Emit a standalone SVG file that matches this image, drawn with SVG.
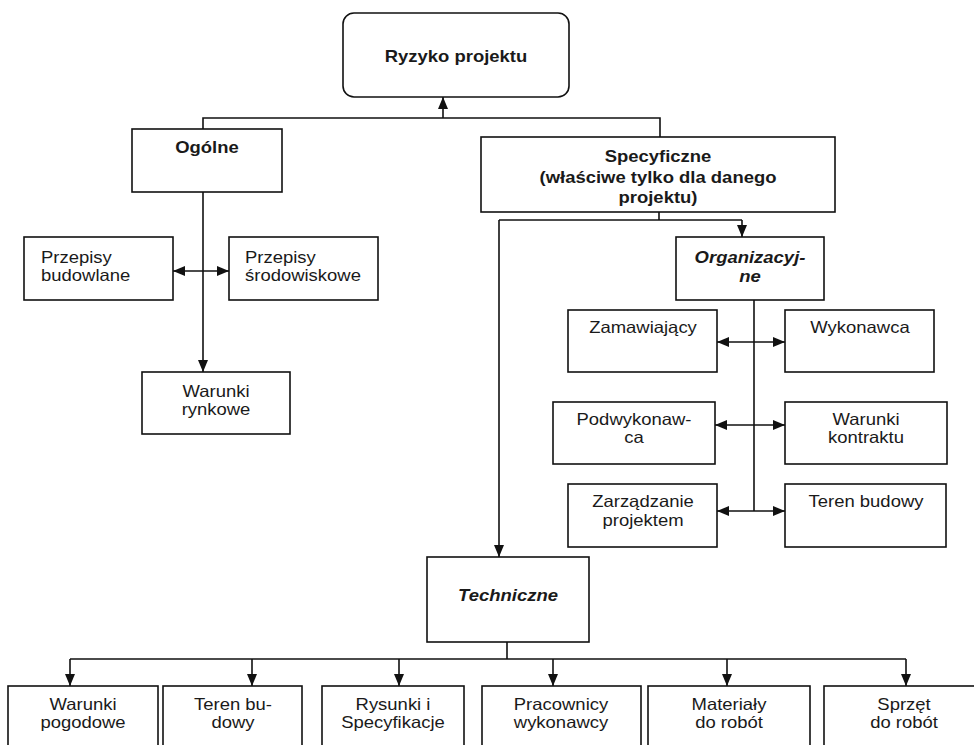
<svg xmlns="http://www.w3.org/2000/svg" width="974" height="745" viewBox="0 0 974 745">
<defs>
<marker id="ah" viewBox="0 0 12 10" refX="12" refY="5" markerWidth="12" markerHeight="10" markerUnits="userSpaceOnUse" orient="auto-start-reverse">
<path d="M0,0 L12,5 L0,10 z" fill="#111"/>
</marker>
<style>
.box{fill:#fff;stroke:#111;stroke-width:1.6}
.ln{fill:none;stroke:#111;stroke-width:1.6}
text{font-family:"Liberation Sans",Arial,sans-serif;font-size:16.5px;fill:#1a1a1a;text-anchor:middle}
.b{font-weight:bold}
.bi{font-weight:bold;font-style:italic}
.l{text-anchor:start}
</style>
</defs>
<rect width="974" height="745" fill="#fff"/>
<g id="connectors">
<path class="ln" d="M443,118 V97" marker-end="url(#ah)"/>
<path class="ln" d="M203,129 V118 H660 V137"/>
<path class="ln" d="M203,192 V372" marker-end="url(#ah)"/>
<path class="ln" d="M173,271 H229" marker-start="url(#ah)" marker-end="url(#ah)"/>
<path class="ln" d="M659,212 V220"/>
<path class="ln" d="M742,220 H499"/>
<path class="ln" d="M742,220 V237" marker-end="url(#ah)"/>
<path class="ln" d="M499,220 V557" marker-end="url(#ah)"/>
<path class="ln" d="M754,300 V511"/>
<path class="ln" d="M717,342 H785" marker-start="url(#ah)" marker-end="url(#ah)"/>
<path class="ln" d="M715,425 H785" marker-start="url(#ah)" marker-end="url(#ah)"/>
<path class="ln" d="M717,511 H785" marker-start="url(#ah)" marker-end="url(#ah)"/>
<path class="ln" d="M507,642 V659 M70,659 H906"/>
<path class="ln" d="M70,659 V686" marker-end="url(#ah)"/>
<path class="ln" d="M252,659 V686" marker-end="url(#ah)"/>
<path class="ln" d="M399,659 V686" marker-end="url(#ah)"/>
<path class="ln" d="M553,659 V686" marker-end="url(#ah)"/>
<path class="ln" d="M727,659 V686" marker-end="url(#ah)"/>
<path class="ln" d="M906,659 V686" marker-end="url(#ah)"/>
</g>
<g id="ryzyko">
<rect class="box" x="343" y="13" width="226" height="84" rx="11"/>
<text class="b" transform="translate(456 62) scale(1.12 1)">Ryzyko projektu</text>
</g>
<g id="ogolne">
<rect class="box" x="132" y="129" width="150" height="63"/>
<text class="b" transform="translate(207 153) scale(1.12 1)">Ogólne</text>
</g>
<g id="specyficzne">
<rect class="box" x="481" y="137" width="354" height="75"/>
<text class="b" transform="translate(658 162) scale(1.12 1)">Specyficzne</text>
<text class="b" transform="translate(658 182.5) scale(1.12 1)">(właściwe tylko dla danego</text>
<text class="b" transform="translate(658 203) scale(1.12 1)">projektu)</text>
</g>
<g id="przepisy-budowlane">
<rect class="box" x="24" y="237" width="149" height="63"/>
<text class="l" transform="translate(41 263) scale(1.12 1)">Przepisy</text>
<text class="l" transform="translate(41 281) scale(1.12 1)">budowlane</text>
</g>
<g id="przepisy-srodowiskowe">
<rect class="box" x="229" y="237" width="149" height="63"/>
<text class="l" transform="translate(245 263) scale(1.12 1)">Przepisy</text>
<text class="l" transform="translate(245 281) scale(1.12 1)">środowiskowe</text>
</g>
<g id="warunki-rynkowe">
<rect class="box" x="142" y="372" width="148" height="62"/>
<text transform="translate(216 397) scale(1.12 1)">Warunki</text>
<text transform="translate(216 415) scale(1.12 1)">rynkowe</text>
</g>
<g id="organizacyjne">
<rect class="box" x="676" y="237" width="148" height="63"/>
<text class="bi" transform="translate(750 263) scale(1.12 1)">Organizacyj-</text>
<text class="bi" transform="translate(750 282) scale(1.12 1)">ne</text>
</g>
<g id="zamawiajacy">
<rect class="box" x="568" y="310" width="149" height="62"/>
<text transform="translate(643 333) scale(1.12 1)">Zamawiający</text>
</g>
<g id="wykonawca">
<rect class="box" x="785" y="310" width="149" height="62"/>
<text transform="translate(860 333) scale(1.12 1)">Wykonawca</text>
</g>
<g id="podwykonawca">
<rect class="box" x="553" y="402" width="162" height="62"/>
<text transform="translate(634 425) scale(1.12 1)">Podwykonaw-</text>
<text transform="translate(634 443) scale(1.12 1)">ca</text>
</g>
<g id="warunki-kontraktu">
<rect class="box" x="785" y="402" width="162" height="62"/>
<text transform="translate(866 425) scale(1.12 1)">Warunki</text>
<text transform="translate(866 443) scale(1.12 1)">kontraktu</text>
</g>
<g id="zarzadzanie">
<rect class="box" x="568" y="484" width="149" height="63"/>
<text transform="translate(643 507) scale(1.12 1)">Zarządzanie</text>
<text transform="translate(643 526) scale(1.12 1)">projektem</text>
</g>
<g id="teren-budowy-org">
<rect class="box" x="785" y="484" width="161" height="63"/>
<text transform="translate(866 507) scale(1.12 1)">Teren budowy</text>
</g>
<g id="techniczne">
<rect class="box" x="427" y="557" width="162" height="85"/>
<text class="bi" transform="translate(508 601) scale(1.12 1)">Techniczne</text>
</g>
<g id="warunki-pogodowe">
<rect class="box" x="8" y="686" width="150" height="80"/>
<text transform="translate(83 710) scale(1.12 1)">Warunki</text>
<text transform="translate(83 728) scale(1.12 1)">pogodowe</text>
</g>
<g id="teren-budowy-tech">
<rect class="box" x="163" y="686" width="139" height="80"/>
<text transform="translate(233 710) scale(1.12 1)">Teren bu-</text>
<text transform="translate(233 728) scale(1.12 1)">dowy</text>
</g>
<g id="rysunki">
<rect class="box" x="322" y="686" width="142" height="80"/>
<text transform="translate(393 710) scale(1.12 1)">Rysunki i</text>
<text transform="translate(393 728) scale(1.12 1)">Specyfikacje</text>
</g>
<g id="pracownicy">
<rect class="box" x="482" y="686" width="159" height="80"/>
<text transform="translate(561 710) scale(1.12 1)">Pracownicy</text>
<text transform="translate(561 728) scale(1.12 1)">wykonawcy</text>
</g>
<g id="materialy">
<rect class="box" x="648" y="686" width="162" height="80"/>
<text transform="translate(729 710) scale(1.12 1)">Materiały</text>
<text transform="translate(729 728) scale(1.12 1)">do robót</text>
</g>
<g id="sprzet">
<rect class="box" x="824" y="686" width="162" height="80"/>
<text transform="translate(904 710) scale(1.12 1)">Sprzęt</text>
<text transform="translate(904 728) scale(1.12 1)">do robót</text>
</g>
</svg>
